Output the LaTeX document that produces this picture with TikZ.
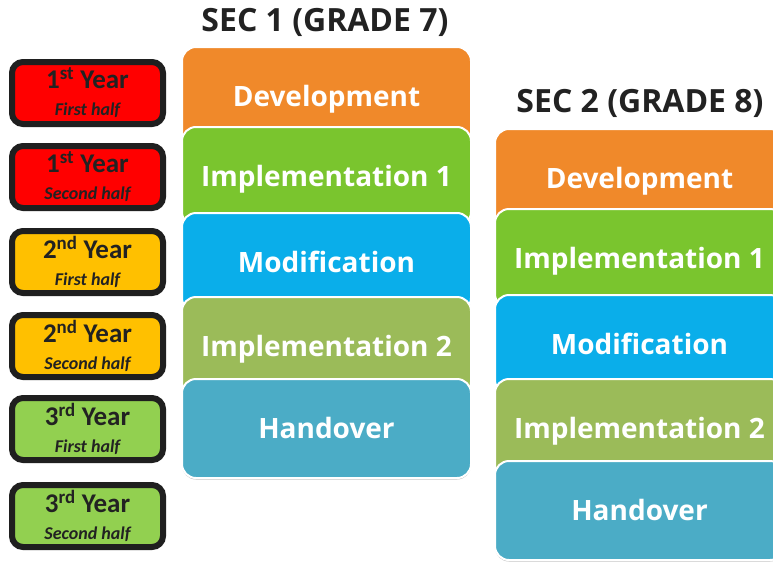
\documentclass[tikz,border=0pt]{standalone}
\usepackage{fontspec}
\setmainfont{Open Sans}
\newfontfamily\carl{Carlito}
\usetikzlibrary{shadows}
\definecolor{cOrange}{HTML}{F0892A}
\definecolor{cGreen}{HTML}{7AC52E}
\definecolor{cBlue}{HTML}{0AAEEA}
\definecolor{cOlive}{HTML}{9BBB59}
\definecolor{cTeal}{HTML}{4BACC6}
\definecolor{yRed}{HTML}{FF0000}
\definecolor{yAmber}{HTML}{FFC000}
\definecolor{yGreen}{HTML}{92D050}
\definecolor{yBorder}{HTML}{1F1F1F}
\definecolor{tDark}{HTML}{222222}
\tikzset{
  stackbox/.style={rectangle, rounded corners=14pt, minimum width=289pt,
    minimum height=99pt, draw=white, line width=2pt, text=white, inner sep=0pt,
    text height=20pt, text depth=0pt,
    anchor=north west,
    font=\bfseries\fontsize{28}{32}\selectfont,
    drop shadow={shadow xshift=0pt, shadow yshift=-1.5pt, opacity=0.25, fill=black}},
  yearbox/.style={rectangle, rounded corners=11pt, minimum width=151pt,
    minimum height=62pt, draw=yBorder, line width=6pt, text=tDark,
    align=center, inner sep=0pt, font=\carl\bfseries\fontsize{27}{27}\selectfont},
  titletext/.style={text=tDark, font=\bfseries\fontsize{32}{36}\selectfont, inner sep=0pt}
}
\newcommand{\yr}[3]{#1\textsuperscript{#2} Year\\{\itshape\fontsize{18}{27}\selectfont #3}}
\begin{document}
\begin{tikzpicture}[x=1pt,y=-1pt]
\useasboundingbox (0,0) rectangle (773,562);
\clip (0,0) rectangle (773,562);
\fill[white] (0,0) rectangle (773,562);
% left year boxes
\node[yearbox, fill=yRed]   (y1) at (87.5,93)  {\yr{1}{st}{First half}};
\node[yearbox, fill=yRed]   (y2) at (87.5,177) {\yr{1}{st}{Second half}};
\node[yearbox, fill=yAmber] (y3) at (87.5,262) {\yr{2}{nd}{First half}};
\node[yearbox, fill=yAmber] (y4) at (87.5,346) {\yr{2}{nd}{Second half}};
\node[yearbox, fill=yGreen] (y5) at (87.5,429) {\yr{3}{rd}{First half}};
\node[yearbox, fill=yGreen] (y6) at (87.5,516) {\yr{3}{rd}{Second half}};
% titles
\node[titletext] (t1) at (325,22) {SEC 1 (GRADE 7)};
\node[titletext] (t2) at (640,103) {SEC 2 (GRADE 8)};
% column 1
\node[stackbox, fill=cOrange] (a1) at (181,46)  {Development};
\node[stackbox, fill=cGreen]  (a2) at (181,126) {Implementation 1};
\node[stackbox, fill=cBlue]   (a3) at (181,212) {Modification};
\node[stackbox, fill=cOlive]  (a4) at (181,296) {Implementation 2};
\node[stackbox, fill=cTeal]   (a5) at (181,378) {Handover};
% column 2
\node[stackbox, fill=cOrange] (b1) at (494,128) {Development};
\node[stackbox, fill=cGreen]  (b2) at (494,208) {Implementation 1};
\node[stackbox, fill=cBlue]   (b3) at (494,294) {Modification};
\node[stackbox, fill=cOlive]  (b4) at (494,378) {Implementation 2};
\node[stackbox, fill=cTeal]   (b5) at (494,460) {Handover};
\end{tikzpicture}
\end{document}
